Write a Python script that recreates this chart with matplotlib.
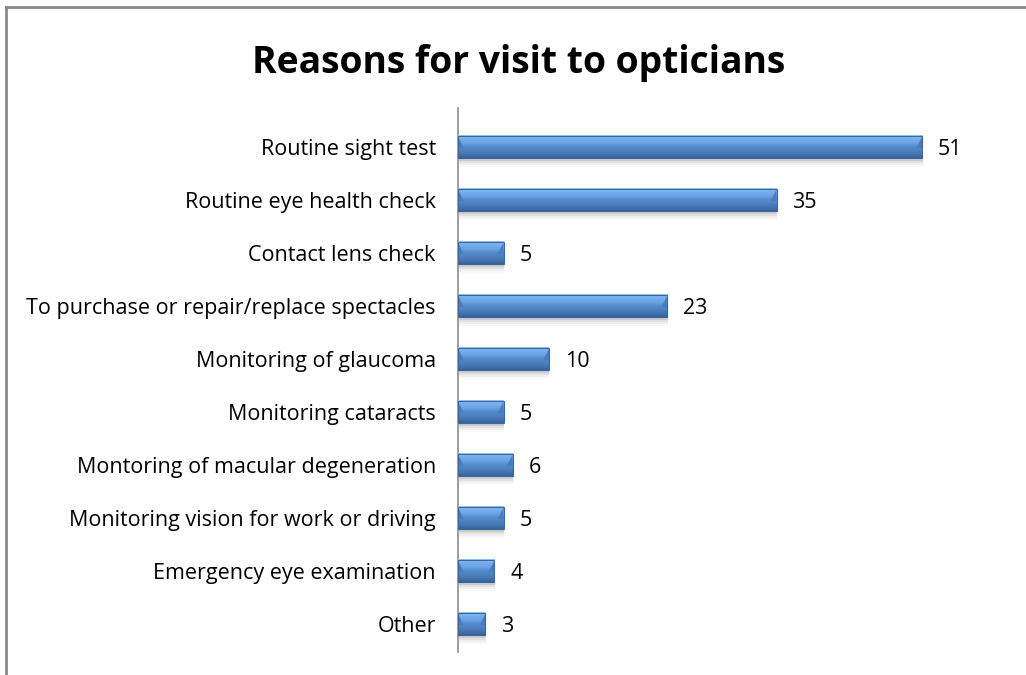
import matplotlib
matplotlib.use("Agg")
import matplotlib.pyplot as plt
import matplotlib.transforms as mtransforms
import numpy as np
from matplotlib.patches import Polygon, Rectangle
from matplotlib.lines import Line2D

reasons = [
    "Routine sight test",
    "Routine eye health check",
    "Contact lens check",
    "To purchase or repair/replace spectacles",
    "Monitoring of glaucoma",
    "Monitoring cataracts",
    "Montoring of macular degeneration",
    "Monitoring vision for work or driving",
    "Emergency eye examination",
    "Other",
]
counts = [51, 35, 5, 23, 10, 5, 6, 5, 4, 3]

plt.rcParams['font.family'] = ['Open Sans', 'DejaVu Sans']

W, H = 1026, 675
fig = plt.figure(figsize=(W / 100, H / 100), dpi=100)

# plot area in pixels (left, top, right, bottom)
px_l, px_t, px_r, px_b = 458, 108, 1004, 652
ax = fig.add_axes([px_l / W, 1 - px_b / H, (px_r - px_l) / W, (px_b - px_t) / H])
ax.set_xlim(0, 60)
ax.set_ylim(len(reasons) - 1 + 0.528, -0.736)

bar_h = 0.43

# vertical colour ramp for the bevelled bars, top to bottom
stops = np.array([
    [0.60, 0.77, 0.95],
    [0.45, 0.68, 0.93],
    [0.42, 0.64, 0.90],
    [0.33, 0.55, 0.81],
    [0.31, 0.51, 0.76],
    [0.27, 0.46, 0.70],
    [0.22, 0.38, 0.60],
])
pos = np.linspace(0, 1, len(stops))
t = np.linspace(0, 1, 40)
ramp = np.stack([np.interp(t, pos, stops[:, c]) for c in range(3)], axis=1)
ramp = ramp[:, None, :]

bevel = 0.65
for i, v in enumerate(counts):
    top = i - bar_h / 2
    bot = i + bar_h / 2
    # soft shadow under the bar
    for k, a in enumerate([0.12, 0.08, 0.05, 0.03]):
        d = 0.03 + k * 0.035
        ax.add_patch(Rectangle((0.15, top + d + 0.02), v - 0.1, bar_h,
                               facecolor='#404040', edgecolor='none',
                               alpha=a, zorder=1))
    ax.imshow(ramp, extent=[0, v, bot, top], aspect='auto',
              interpolation='bilinear', zorder=3)
    # bevelled ends: the highlight band stops on a slant
    b = min(bevel, v * 0.2)
    mid = i + bar_h * 0.05
    ax.add_patch(Polygon([(0, top + 0.02), (b, mid), (0, mid)],
                         closed=True, facecolor='#4a7cbf', edgecolor='none',
                         zorder=4))
    ax.add_patch(Polygon([(v, top + 0.02), (v - b, mid), (v, mid)],
                         closed=True, facecolor='#4a7cbf', edgecolor='none',
                         zorder=4))
    ax.add_patch(Rectangle((0, top), v, bar_h, facecolor='none',
                           edgecolor='#3b679f', lw=0.8, zorder=5))
    ax.text(v + 1.75, i + 0.04, str(v), ha='left', va='center',
            fontsize=15.5, color='#000000', zorder=6)

ax.set_yticks(range(len(reasons)))
ax.set_yticklabels(reasons, fontsize=15.5, va='center')
ax.tick_params(axis='y', length=0, pad=16)
# nudge the category labels down a touch
shift = mtransforms.ScaledTranslation(0, -2 / 100, fig.dpi_scale_trans)
for lbl in ax.get_yticklabels():
    lbl.set_transform(lbl.get_transform() + shift)
ax.set_xticks([])
for s in ['top', 'right', 'bottom']:
    ax.spines[s].set_visible(False)
ax.spines['left'].set_color('#8c8c8c')
ax.spines['left'].set_linewidth(1.2)

fig.text(519 / W, 1 - 63 / H, "Reasons for visit to opticians",
         ha='center', va='center', fontsize=26.8, fontweight='bold')

# chart frame: top and left edges only
fig.add_artist(Line2D([6 / W, 1], [1 - 7 / H, 1 - 7 / H],
                      transform=fig.transFigure, color='#8a8a8a', lw=2))
fig.add_artist(Line2D([6 / W, 6 / W], [0, 1 - 7 / H],
                      transform=fig.transFigure, color='#8a8a8a', lw=2))

fig.savefig("out.png", dpi=100)
